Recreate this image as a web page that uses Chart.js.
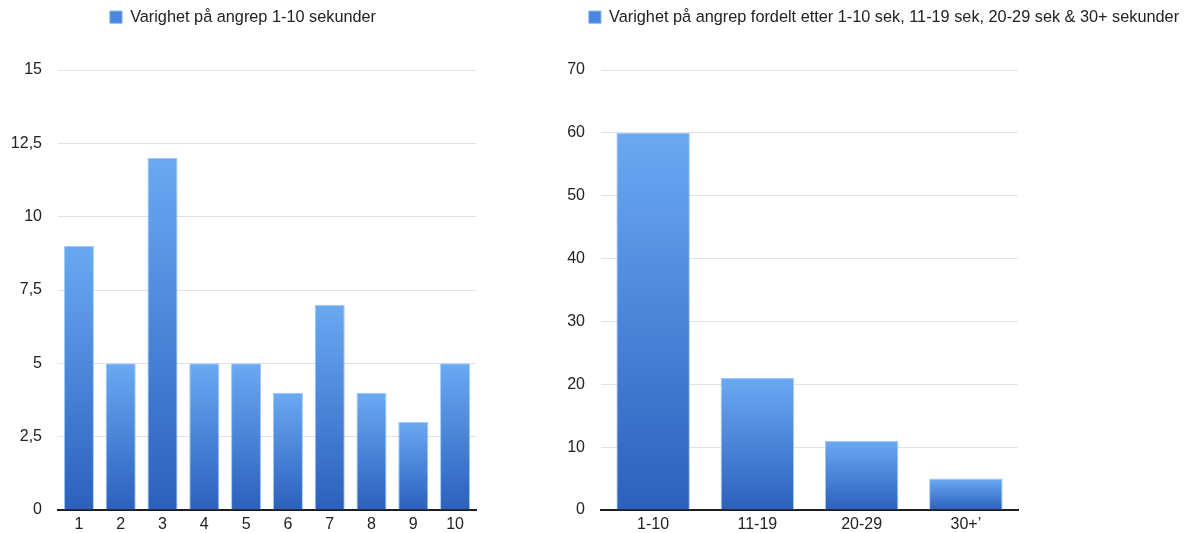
<!DOCTYPE html>
<html lang="no">
<head>
<meta charset="utf-8">
<title>Varighet på angrep</title>
<script src="https://cdn.jsdelivr.net/npm/chart.js@4/dist/chart.umd.min.js"></script>
<style>
  html, body { margin: 0; padding: 0; background: #fff; overflow: hidden; }
  body { width: 1189px; height: 533px; position: relative; }
  .panel { position: absolute; top: 0; height: 533px; }
  #left { left: 0; width: 486px; }
  #right { left: 560px; width: 648px; }
</style>
</head>
<body>
<div class="panel" id="left"><canvas id="chartSeconds" width="486" height="533"></canvas></div>
<div class="panel" id="right"><canvas id="chartGroups" width="648" height="533"></canvas></div>
<script>
// Attack duration, 1-10 seconds
const secondsLabels = ['1', '2', '3', '4', '5', '6', '7', '8', '9', '10'];
const secondsCounts = [9, 5, 12, 5, 5, 4, 7, 4, 3, 5];
const secondsTicks = ['0', '2,5', '5', '7,5', '10', '12,5', '15'];
const secondsSeries = 'Varighet på angrep 1-10 sekunder';

// Attack duration grouped by interval
const groupLabels = ['1-10', '11-19', '20-29', '30+\u2019'];
const groupCounts = [60, 21, 11, 5];
const groupTicks = ['0', '10', '20', '30', '40', '50', '60', '70'];
const groupSeries = 'Varighet på angrep fordelt etter 1-10 sek, 11-19 sek, 20-29 sek & 30+ sekunder';

const FAMILY = '"Liberation Sans", Arial, Helvetica, sans-serif';
const FONT = { family: FAMILY, size: 16 };
const LEGEND_FONT = { family: FAMILY, size: 16.3 };
const TEXT = '#222';

// Vertical gradient spanning each bar from its top down to zero
function barFill(ctx) {
  const chart = ctx.chart;
  const y = chart.scales && chart.scales.y;
  if (!chart.chartArea || !y || ctx.type !== 'data') return '#4a85db';
  const top = y.getPixelForValue(ctx.raw);
  const base = y.getPixelForValue(0);
  if (!isFinite(top) || !isFinite(base) || base - top < 1) return '#4a85db';
  const g = chart.ctx.createLinearGradient(0, top, 0, base);
  g.addColorStop(0, '#6aa9f2');
  g.addColorStop(1, '#2c60bd');
  return g;
}

// Reserve the band above the plot for the legend
const legendBand = {
  id: 'legendBand',
  beforeInit(chart, args, opts) {
    const legend = chart.legend;
    if (!legend) return;
    const fit = legend.fit.bind(legend);
    legend.fit = function () {
      fit();
      this.height = opts.height;
    };
  }
};

function makeChart(canvasId, labels, values, seriesName, tickLabels, maxY, step, axisWidth, rightGap, barFrac) {
  return new Chart(document.getElementById(canvasId), {
    type: 'bar',
    data: {
      labels: labels,
      datasets: [{
        label: seriesName,
        data: values,
        backgroundColor: barFill,
        borderColor: 'rgba(150, 196, 246, 0.9)',
        borderWidth: 1,
        borderSkipped: 'bottom',
        categoryPercentage: 1,
        barPercentage: barFrac
      }]
    },
    options: {
      responsive: false,
      animation: false,
      layout: { padding: 0 },
      plugins: {
        tooltip: { enabled: false },
        legendBand: { height: 70 },
        legend: {
          position: 'top',
          align: 'center',
          labels: {
            boxWidth: 12,
            boxHeight: 12,
            padding: 9,
            color: TEXT,
            font: LEGEND_FONT,
            generateLabels(chart) {
              const ds = chart.data.datasets[0];
              return [{
                text: ds.label,
                fillStyle: '#4a86dc',
                strokeStyle: '#6ea6ea',
                lineWidth: 1,
                hidden: false,
                datasetIndex: 0,
                fontColor: TEXT
              }];
            }
          }
        }
      },
      scales: {
        x: {
          grid: { display: false, drawTicks: false },
          border: { display: true, color: '#1e1e1e', width: 2 },
          ticks: { color: TEXT, font: FONT, padding: 5, maxRotation: 0 },
          afterFit(scale) { scale.height = 23; }
        },
        y: {
          min: 0,
          max: maxY,
          grid: {
            color: '#e2e2e2',
            lineWidth: 1,
            drawTicks: true,
            tickLength: 10,
            tickColor: 'rgba(0, 0, 0, 0)'
          },
          border: { display: false },
          ticks: {
            stepSize: step,
            color: TEXT,
            font: FONT,
            padding: 6,
            callback: (value, index) => tickLabels[index]
          },
          afterFit(scale) { scale.width = axisWidth; }
        },
        gap: {
          position: 'right',
          display: true,
          grid: { display: false, drawTicks: false },
          border: { display: false },
          ticks: { display: false },
          afterFit(scale) { scale.width = rightGap; }
        }
      }
    },
    plugins: [legendBand]
  });
}

makeChart('chartSeconds', secondsLabels, secondsCounts, secondsSeries, secondsTicks, 15, 2.5, 58, 10, 0.72);
makeChart('chartGroups', groupLabels, groupCounts, groupSeries, groupTicks, 70, 10, 41, 190, 0.705);
</script>
</body>
</html>
